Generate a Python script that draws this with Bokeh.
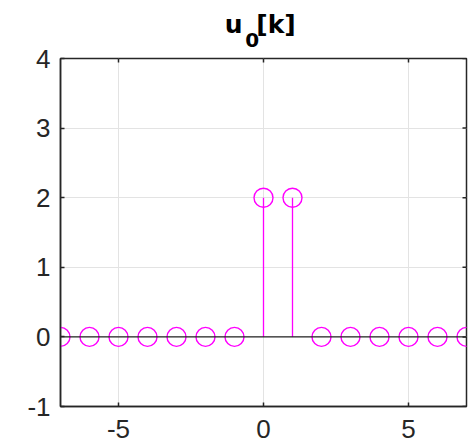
import math
from bokeh.plotting import figure
from bokeh.models import Range1d, FixedTicker, Span, Title, ColumnDataSource
from bokeh.embed import file_html
from bokeh.resources import INLINE

# data
k = [-7, -6, -5, -4, -3, -2, -1, 0, 1, 2, 3, 4, 5, 6, 7]
u0 = [0, 0, 0, 0, 0, 0, 0, 2, 2, 0, 0, 0, 0, 0, 0]
x_ticks = [-5, 0, 5]
y_ticks = [-1, 0, 1, 2, 3, 4]
x_lim = (-7, 7)
y_lim = (-1, 4)
title_main = "u\u00a0\u2009[k]"
title_sub = "0"

MAG = "#FF00FF"
DARK = "#262626"
FONT = "Liberation Sans"
TFONT = "DejaVu Sans"

p = figure(width=475, height=448, output_backend="svg", toolbar_location=None,
           x_range=Range1d(*x_lim), y_range=Range1d(*y_lim),
           min_border_left=60, min_border_right=9, min_border_top=58,
           min_border_bottom=42)
p.background_fill_color = "white"
p.border_fill_color = "white"
p.outline_line_color = DARK
p.outline_line_width = 1.5

for ax in (p.xaxis[0], p.yaxis[0]):
    ax.major_tick_in = 4
    ax.major_tick_out = 0
    ax.minor_tick_in = 0
    ax.minor_tick_out = 0
    ax.axis_line_color = DARK
    ax.axis_line_width = 1.5
    ax.major_tick_line_color = DARK
    ax.major_tick_line_width = 1.5
    ax.major_label_text_font = FONT
    ax.major_label_text_font_size = "26px"
    ax.major_label_text_color = DARK
p.xaxis[0].ticker = FixedTicker(ticks=x_ticks)
p.yaxis[0].ticker = FixedTicker(ticks=y_ticks)
p.xaxis[0].major_label_overrides = {t: str(t) for t in x_ticks}
p.yaxis[0].major_label_overrides = {t: str(t) for t in y_ticks}
p.xaxis[0].major_label_standoff = 13
p.yaxis[0].major_label_standoff = 10

p.xgrid.ticker = FixedTicker(ticks=x_ticks)
p.ygrid.ticker = FixedTicker(ticks=y_ticks)
p.xgrid.grid_line_color = "#E3E3E3"
p.ygrid.grid_line_color = "#E3E3E3"

# mirrored inward ticks on top and right edges (half of each dash is clipped by the frame)
p.scatter(x=x_ticks, y=[y_lim[1]] * len(x_ticks), marker="dash", size=8, angle=math.pi / 2,
          line_color=DARK, line_width=1.5)
p.scatter(x=[x_lim[1]] * len(y_ticks), y=y_ticks, marker="dash", size=8,
          line_color=DARK, line_width=1.5)

# baseline
p.add_layout(Span(location=0, dimension="width", line_color=DARK, line_width=1.2))

src = ColumnDataSource(dict(k=k, u0=u0, z=[0] * len(k)))
p.segment(x0="k", y0="z", x1="k", y1="u0", source=src, line_color=MAG, line_width=1.3)
p.scatter(x="k", y="u0", source=src, marker="circle", size=19,
          fill_color=None, line_color=MAG, line_width=1.4)

# title u_0[k]: subscript panel next to the frame, main text above it
sub = Title(text=title_sub, align="left", offset=184.7, vertical_align="bottom",
            standoff=22.6, text_font=TFONT, text_font_style="bold",
            text_font_size="20px", text_color="black")
p.add_layout(sub, "above")
p.title.text = title_main
p.title.align = "left"
p.title.offset = 164.3
p.title.vertical_align = "bottom"
p.title.standoff = -39.6
p.title.text_font = TFONT
p.title.text_font_style = "bold"
p.title.text_font_size = "25px"
p.title.text_color = "black"

open("out.html", "w").write(file_html(p, INLINE))
